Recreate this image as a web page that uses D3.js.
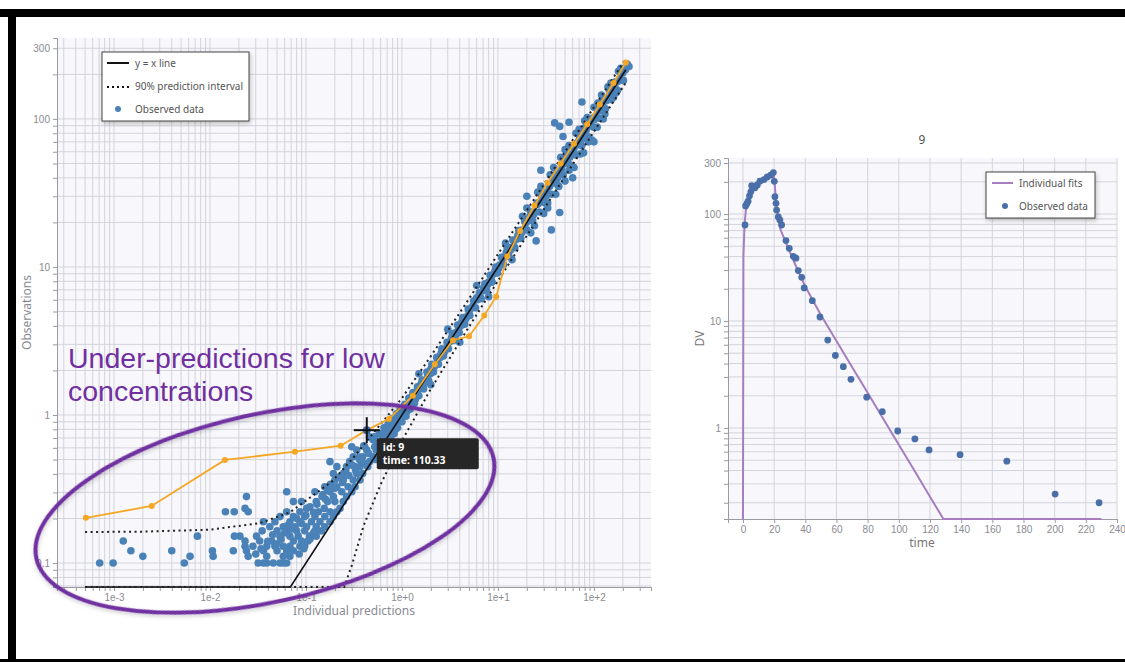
<!DOCTYPE html>
<html>
<head>
<meta charset="utf-8">
<script src="https://cdn.jsdelivr.net/npm/d3@7"></script>
<style>
    body { margin: 0; background: #fff; }
    svg { display: block; font-family: "Noto Sans", Roboto, sans-serif; }
</style>
</head>
<body>
<div id="chart"></div>
<script>
// ---- Left panel: observations vs individual predictions ----
// observed points as [individual prediction, observation]
const observedPairs = [
    // low concentration region
    [7.1e-4, 0.1], [9.8e-4, 0.1], [5.4e-3, 0.1], [0.0318, 0.1], [0.036, 0.1], [0.039, 0.1], [0.0457, 0.1], [0.0537, 0.1], [0.058, 0.1], [0.063, 0.1],
    [2.0e-3, 0.111], [6.2e-3, 0.111], [0.0108, 0.111], [0.025, 0.111], [0.039, 0.111], [0.058, 0.111], [0.068, 0.111],
    [1.5e-3, 0.121], [4.0e-3, 0.121], [0.0106, 0.121], [0.0175, 0.121], [0.024, 0.121], [0.036, 0.121], [0.05, 0.121], [0.063, 0.121], [0.074, 0.121],
    [0.0232, 0.13], [0.028, 0.13], [0.039, 0.13], [0.0475, 0.13], [0.058, 0.13], [0.068, 0.13], [0.0866, 0.13], [0.097, 0.13],
    [1.25e-3, 0.141], [0.0232, 0.141], [0.033, 0.141], [0.044, 0.141], [0.074, 0.141], [0.09, 0.141], [0.105, 0.141],
    [7.4e-3, 0.152], [0.018, 0.152], [0.0205, 0.152], [0.0306, 0.152], [0.0537, 0.152], [0.068, 0.152], [0.083, 0.152], [0.109, 0.152], [0.128, 0.152],
    [0.035, 0.165], [0.05, 0.165], [0.063, 0.165], [0.08, 0.165], [0.097, 0.165], [0.124, 0.165], [0.145, 0.165],
    [0.042, 0.176], [0.058, 0.176], [0.077, 0.176], [0.1016, 0.176], [0.128, 0.176], [0.157, 0.176],
    [0.036, 0.19], [0.0475, 0.19], [0.068, 0.19], [0.0866, 0.19], [0.114, 0.19], [0.14, 0.19], [0.178, 0.19],
    [0.0537, 0.206], [0.074, 0.206], [0.097, 0.206], [0.124, 0.206], [0.157, 0.206], [0.193, 0.206],
    [0.0145, 0.222], [0.0179, 0.222], [0.025, 0.222], [0.063, 0.222], [0.0866, 0.222], [0.135, 0.222], [0.178, 0.222], [0.21, 0.222],
    [0.0232, 0.234], [0.1016, 0.234], [0.155, 0.234], [0.226, 0.234],
    [0.074, 0.26], [0.09, 0.26], [0.128, 0.26], [0.168, 0.26], [0.2, 0.26], [0.245, 0.26],
    [0.024, 0.281], [0.147, 0.281], [0.193, 0.281], [0.265, 0.281],
    [0.063, 0.303], [0.124, 0.303], [0.178, 0.303], [0.236, 0.303], [0.3, 0.303],
    [0.157, 0.328], [0.21, 0.328], [0.275, 0.328], [0.325, 0.328],
    [0.2, 0.364], [0.245, 0.364], [0.311, 0.364], [0.365, 0.364],
    [0.193, 0.403], [0.245, 0.403], [0.338, 0.403], [0.39, 0.403],
    [0.21, 0.448], [0.265, 0.448], [0.365, 0.448], [0.44, 0.448],
    [0.178, 0.484], [0.285, 0.484], [0.38, 0.484], [0.46, 0.484],
    [0.311, 0.523], [0.39, 0.523], [0.5, 0.523],
    [0.338, 0.58], [0.43, 0.58], [0.54, 0.58],
    [0.3, 0.61], [0.41, 0.61], [0.52, 0.61],
    [0.46, 0.713], [0.52, 0.713], [0.63, 0.713],
    [0.03, 0.115], [0.034, 0.125], [0.04, 0.14], [0.045, 0.155], [0.05, 0.135], [0.055, 0.145], [0.06, 0.16], [0.065, 0.18],
    [0.07, 0.17], [0.08, 0.2], [0.09, 0.185], [0.1, 0.21], [0.11, 0.24], [0.12, 0.22], [0.13, 0.25], [0.15, 0.29],
    [0.16, 0.27], [0.17, 0.31], [0.18, 0.34], [0.2, 0.32], [0.22, 0.38], [0.24, 0.35], [0.26, 0.42], [0.28, 0.39],
    [0.3, 0.46], [0.33, 0.42], [0.36, 0.5], [0.4, 0.47], [0.085, 0.115], [0.095, 0.125], [0.11, 0.145], [0.12, 0.16],
    // main band along the identity line
    [0.55, 0.62], [0.58, 0.75], [0.6, 0.55], [0.62, 0.68], [0.65, 0.82], [0.68, 0.6], [0.7, 0.74], [0.72, 0.88], [0.75, 0.68], [0.78, 0.84],
    [0.8, 0.95], [0.83, 0.75], [0.85, 0.9], [0.88, 1.02], [0.9, 0.82], [0.93, 0.97], [0.96, 1.1], [1.0, 0.9], [1.03, 1.05], [1.07, 1.18],
    [1.1, 0.98], [1.14, 1.12], [1.18, 1.3], [1.22, 1.1], [1.26, 1.25], [1.3, 1.42], [1.35, 1.2], [1.4, 1.38], [1.45, 1.55], [1.5, 1.35],
    [1.56, 1.52], [1.62, 1.72], [1.68, 1.5], [1.75, 1.7], [1.82, 1.95], [1.9, 1.7], [1.97, 1.9], [2.05, 2.2], [2.13, 1.95], [2.2, 2.15],
    [2.3, 2.45], [2.4, 2.2], [2.5, 2.45], [2.6, 2.8], [2.7, 2.5], [2.8, 2.75], [2.95, 3.1], [3.05, 2.8], [3.2, 3.15], [3.35, 3.55],
    [3.5, 3.2], [3.65, 3.6], [3.8, 4.05], [3.95, 3.6], [4.1, 4.0], [4.3, 4.55], [4.5, 4.1], [4.7, 4.6], [4.9, 5.2], [5.1, 4.7],
    [5.35, 5.3], [5.6, 5.9], [5.85, 5.3], [6.1, 6.0], [6.4, 6.7], [6.7, 6.1], [7.0, 6.9], [7.3, 7.7], [7.6, 7.0], [8.0, 7.9],
    [8.3, 8.8], [8.7, 7.9], [9.1, 9.0], [9.5, 10.0], [9.9, 9.1], [10.4, 10.3], [10.9, 11.6], [11.4, 10.4], [11.9, 11.8], [12.5, 13.3],
    [13, 11.8], [13.7, 13.5], [14.3, 15.2], [15, 13.5], [15.7, 15.4], [16.5, 17.6], [17.3, 15.6], [18.1, 17.8], [19, 20.3], [20, 17.8],
    [21, 20.5], [22, 23.5], [23, 20.5], [24, 23.5], [25.5, 27], [27, 23.5], [28, 27.5], [29.5, 31.5], [31, 27], [32.5, 32],
    [34, 36.5], [36, 31], [37.5, 37], [39.5, 42], [41.5, 36], [43.5, 43], [46, 49], [48, 42], [50.5, 50], [53, 56],
    [56, 49], [58.5, 58], [61.5, 66], [64.5, 57], [67.5, 67], [71, 76], [74.5, 66], [78, 77.5], [82, 88], [86, 76],
    [90, 90], [95, 101], [99, 88], [104, 104], [109, 116], [114, 101], [120, 120], [126, 134], [132, 117], [138, 138],
    [145, 154], [152, 135], [160, 160], [168, 178], [176, 156], [185, 186], [194, 205], [203, 182], [213, 215], [222, 235], [232, 226],
    [0.32, 0.45], [0.36, 0.52], [0.4, 0.62], [0.45, 0.55], [0.5, 0.68], [0.53, 0.5], [0.57, 0.66], [0.63, 0.74], [0.67, 0.7], [0.73, 0.8],
    [0.77, 0.72], [0.82, 0.88], [0.86, 0.8], [0.92, 0.9], [0.98, 1.0], [1.05, 1.12], [1.12, 1.05], [1.2, 1.2], [1.28, 1.33], [1.38, 1.28],
    [1.48, 1.48], [1.58, 1.62], [1.7, 1.62], [1.85, 1.82], [2.0, 2.05], [2.15, 2.1], [2.35, 2.3], [2.55, 2.6], [2.75, 2.65], [3.0, 3.0],
    [3.3, 3.35], [3.6, 3.45], [3.9, 3.85], [4.2, 4.25], [4.6, 4.45], [5.0, 5.0], [5.5, 5.45], [6.0, 6.2], [6.5, 6.35], [7.1, 7.2],
    [7.8, 7.6], [8.5, 8.6], [9.3, 9.4], [10.2, 9.8], [11.2, 11.3], [12.2, 12.5], [13.4, 12.9], [14.7, 15], [16.1, 16.3], [17.7, 17],
    [19.5, 19.8], [21.5, 22], [23.5, 22.5], [26, 26.5], [28.5, 29.5], [31.5, 30], [34.5, 35], [38, 39], [42, 40], [46, 46],
    [51, 53], [56, 55], [62, 63], [68, 70], [75, 73], [83, 84], [92, 94], [101, 99], [112, 113], [123, 126],
    [136, 133], [150, 152], [165, 168], [182, 180], [200, 204],
    [1.5, 1.9], [2, 1.6], [3, 3.8], [4, 3.1], [6, 7.5], [8, 6.3],
    [12, 14.5], [14, 11.2], [18, 22], [22, 17], [26, 32], [30, 23], [35, 42], [40, 31], [45, 55], [50, 38],
    [55, 66], [62, 47], [70, 85], [78, 59], [85, 102], [95, 72], [110, 128], [125, 100], [140, 165], [160, 140], [180, 210],
    [20, 25], [24, 19], [28, 35], [33, 27], [38, 47], [43, 35], [50, 62], [55, 45], [65, 80], [72, 58],
    [80, 97], [88, 70], [100, 120], [108, 88], [120, 145], [130, 108], [150, 175], [170, 150], [190, 220],
    // scattered points away from the band
    [33, 25], [36, 17.8], [44, 23.3], [47.6, 76], [90.6, 72], [44, 89], [39, 94], [28, 45], [60, 40], [75, 130], [100, 70], [55, 95], [25, 15], [20, 30]
];

// binned trend (orange), [prediction, observation]
const trendPairs = [
    [5.1e-4, 0.202], [2.47e-3, 0.243], [0.0143, 0.497], [0.0768, 0.565], [0.23, 0.62], [0.43, 0.79], [0.73, 0.94],
    [1.3, 1.35], [2.2, 2.2], [3.4, 3.2], [5.0, 3.4], [7.2, 4.7], [9.6, 6.3], [12.5, 11.8], [17, 17.5], [24, 26],
    [33, 37], [45, 50], [62, 68], [85, 92], [115, 125], [160, 175], [215, 240]
];

// 90% prediction interval, [prediction, bound]
const piUpperPairs = [
    [5e-4, 0.162], [2e-3, 0.163], [0.01, 0.168], [0.033, 0.186], [0.068, 0.22], [0.14, 0.31], [0.19, 0.36],
    [0.3, 0.5], [0.5, 0.75], [1, 1.3], [2, 2.5], [5, 6.1], [10, 12.2], [30, 36], [100, 120], [215, 255]
];
const piLowerPairs = [
    [5e-4, 5e-4], [0.2, 5e-4], [0.25, 0.05], [0.3, 0.096], [0.4, 0.18], [0.6, 0.34], [1, 0.67],
    [2, 1.5], [5, 3.95], [10, 8.05], [30, 24.5], [100, 82], [215, 176]
];

// y = x reference line
const identityValues = [5e-4, 0.0689, 215];

const xTickValues = [1e-3, 1e-2, 1e-1, 1, 10, 100];
const xTickLabels = ["1e-3", "1e-2", "1e-1", "1e+0", "1e+1", "1e+2"];
const yTickValues = [0.1, 1, 10, 100, 300];
const yTickLabels = ["0.1", "1", "10", "100", "300"];

// highlighted point under the cursor
const hovered = { id: 9, time: 110.33, pred: 0.43, obs: 0.79 };

// ---- Right panel: subject 9 ----
const subjectTime = [1.3, 1.7, 2.5, 3.3, 4.2, 5.1, 5.6, 7.7, 9.2, 10.9, 13.5, 15.6, 17.8, 19.5, 20.1, 20.5, 21.2, 21.6, 22.7, 23.7, 24.8,
    27.6, 29.7, 32.3, 34, 35.5, 37.7, 39.3, 44.5, 49.4, 54.4, 59.3, 64.4, 69.3, 79.4, 89.4, 99.3, 110.33, 119.4, 139.3, 169.3, 200.3, 228.5];
const subjectDV = [79, 119, 125, 132, 148, 162, 184, 176, 187, 203, 210, 222, 231, 244, 202, 145, 126, 109, 94, 88, 79,
    56.5, 47.8, 40.2, 38.7, 29.6, 25.6, 20.4, 15.5, 10.9, 6.64, 4.76, 3.74, 2.85, 1.94, 1.42, 0.937, 0.79, 0.623, 0.563, 0.49, 0.241, 0.2];

const fitTime = [0, 0.3, 1, 2, 3, 5, 7, 10, 13, 16, 19.5, 20.3, 21, 22, 23, 24, 28, 32, 36, 40, 50, 60, 70, 80, 90, 100, 110, 120, 128.6, 130, 230];
const fitDV = [1e-3, 40, 79, 115, 133, 162, 180, 200, 215, 228, 246, 200, 140, 105, 88, 72, 52, 38, 28, 21, 11.4, 6.5, 3.72, 2.13, 1.22, 0.697, 0.40, 0.228, 0.141, 0.1, 0.1];

const timeTicks = d3.range(0, 241, 20);
const dvTickValues = [1, 10, 100, 300];

function init() {
    const w = 1125, h = 662;
    const gridColor = "#d3d3dc";
    const plotBg = "#f8f8fc";
    const blue = "#4a82b8";
    const orange = "#f5a623";
    const purple = "#7030a0";

    const svg = d3.select("#chart").append("svg")
        .attr("width", w)
        .attr("height", h);

    const defs = svg.append("defs");
    const shadow = defs.append("filter").attr("id", "shadow")
        .attr("x", "-20%").attr("y", "-20%").attr("width", "140%").attr("height", "150%");
    shadow.append("feDropShadow").attr("dx", 1).attr("dy", 2).attr("stdDeviation", 2)
        .attr("flood-color", "#000").attr("flood-opacity", 0.25);
    const soft = defs.append("filter").attr("id", "soft")
        .attr("x", "-10%").attr("y", "-20%").attr("width", "120%").attr("height", "140%");
    soft.append("feDropShadow").attr("dx", 0).attr("dy", 2).attr("stdDeviation", 2)
        .attr("flood-color", "#000").attr("flood-opacity", 0.2);

    // screenshot frame
    svg.append("rect").attr("x", 0).attr("y", 9).attr("width", w).attr("height", 8).attr("fill", "#000");
    svg.append("rect").attr("x", 8).attr("y", 9).attr("width", 8).attr("height", h - 9).attr("fill", "#000");
    svg.append("rect").attr("x", 0).attr("y", h - 3).attr("width", w).attr("height", 3).attr("fill", "#000");

    // ===== left panel =====
    const x = d3.scaleLog().domain([2.55e-4, 393]).range([57, 651]);
    const y = d3.scaleLog().domain([0.0689, 352]).range([587, 38]).clamp(true);

    const left = svg.append("g");
    left.append("rect")
        .attr("x", x.range()[0]).attr("y", y.range()[1])
        .attr("width", x.range()[1] - x.range()[0])
        .attr("height", y.range()[0] - y.range()[1])
        .attr("fill", plotBg);

    // grid
    left.append("g").selectAll("line").data(x.ticks()).join("line")
        .attr("x1", d => x(d)).attr("x2", d => x(d))
        .attr("y1", y.range()[0]).attr("y2", y.range()[1])
        .attr("stroke", gridColor);
    left.append("g").selectAll("line").data(y.ticks()).join("line")
        .attr("x1", x.range()[0]).attr("x2", x.range()[1])
        .attr("y1", d => y(d)).attr("y2", d => y(d))
        .attr("stroke", gridColor);

    // axes
    const xAxis = left.append("g")
        .attr("transform", `translate(0,${y.range()[0]})`)
        .call(d3.axisBottom(x).tickValues(x.ticks()).tickSize(4)
            .tickFormat(d => { const i = xTickValues.findIndex(v => Math.abs(v - d) / v < 1e-6); return i >= 0 ? xTickLabels[i] : ""; }));
    const yAxis = left.append("g")
        .attr("transform", `translate(${x.range()[0]},0)`)
        .call(d3.axisLeft(y).tickValues(y.ticks()).tickSize(4)
            .tickFormat(d => { const i = yTickValues.findIndex(v => Math.abs(v - d) / v < 1e-6); return i >= 0 ? yTickLabels[i] : ""; }));
    [xAxis, yAxis].forEach(a => {
        a.selectAll("path, line").attr("stroke", "#9a9aa2");
        a.selectAll("text").attr("fill", "#8a8a92").attr("font-size", 10);
    });

    left.append("text")
        .attr("x", (x.range()[0] + x.range()[1]) / 2).attr("y", 615)
        .attr("text-anchor", "middle").attr("font-size", 12).attr("fill", "#8a8a92")
        .text("Individual predictions");
    left.append("text")
        .attr("transform", `translate(31,${(y.range()[0] + y.range()[1]) / 2}) rotate(-90)`)
        .attr("text-anchor", "middle").attr("font-size", 12).attr("fill", "#8a8a92")
        .text("Observations");

    const line = d3.line().x(d => x(d[0])).y(d => y(d[1]));

    // points
    left.append("g").selectAll("circle").data(observedPairs).join("circle")
        .attr("cx", d => x(d[0])).attr("cy", d => y(d[1]))
        .attr("r", 3.8).attr("fill", blue);

    // identity line
    left.append("path")
        .datum(identityValues.map(v => [v, v]))
        .attr("d", line).attr("fill", "none")
        .attr("stroke", "#111").attr("stroke-width", 1.6);

    // prediction interval
    [piUpperPairs, piLowerPairs].forEach(pi => {
        left.append("path").datum(pi).attr("d", line)
            .attr("fill", "none").attr("stroke", "#222")
            .attr("stroke-width", 2).attr("stroke-dasharray", "2,3.5");
    });

    // trend
    left.append("path").datum(trendPairs).attr("d", line)
        .attr("fill", "none").attr("stroke", orange).attr("stroke-width", 1.8);
    left.append("g").selectAll("circle").data(trendPairs).join("circle")
        .attr("cx", d => x(d[0])).attr("cy", d => y(d[1]))
        .attr("r", 3).attr("fill", orange);

    // legend
    const lg = left.append("g").attr("transform", "translate(102,52)");
    lg.append("rect").attr("width", 147).attr("height", 69)
        .attr("fill", "#fff").attr("stroke", "#444").attr("filter", "url(#shadow)");
    lg.append("line").attr("x1", 5).attr("x2", 27).attr("y1", 11).attr("y2", 11)
        .attr("stroke", "#111").attr("stroke-width", 2);
    lg.append("line").attr("x1", 5).attr("x2", 27).attr("y1", 35).attr("y2", 35)
        .attr("stroke", "#111").attr("stroke-width", 2).attr("stroke-dasharray", "2,3");
    lg.append("circle").attr("cx", 16).attr("cy", 57).attr("r", 3).attr("fill", blue);
    ["y = x line", "90% prediction interval", "Observed data"].forEach((t, i) => {
        lg.append("text").attr("x", 33).attr("y", 14.5 + i * 23)
            .attr("font-size", 10).attr("fill", "#555").text(t);
    });

    // annotation
    const ann = left.append("g");
    ann.append("ellipse")
        .attr("transform", `translate(${x(0.0374)},${y(0.235)}) rotate(-12.4)`)
        .attr("rx", 234).attr("ry", 94)
        .attr("fill", "none").attr("stroke", purple).attr("stroke-width", 4)
        .attr("filter", "url(#soft)");
    ann.append("text")
        .attr("x", 68).attr("y", 368)
        .attr("font-family", "'Liberation Sans', Arial, sans-serif")
        .attr("font-size", 28.5).attr("fill", purple)
        .selectAll("tspan").data(["Under-predictions for low", "concentrations"]).join("tspan")
        .attr("x", 68).attr("dy", (d, i) => i === 0 ? 0 : 33).text(d => d);

    // hovered point, crosshair and tooltip
    const hx = x(hovered.pred), hy = y(hovered.obs);
    left.append("circle").attr("cx", hx).attr("cy", hy).attr("r", 4).attr("fill", "#3a66b0");
    left.append("line").attr("x1", hx).attr("x2", hx).attr("y1", hy - 13).attr("y2", hy + 13)
        .attr("stroke", "#111").attr("stroke-width", 2);
    left.append("line").attr("x1", hx - 13).attr("x2", hx + 13).attr("y1", hy).attr("y2", hy)
        .attr("stroke", "#111").attr("stroke-width", 2);
    const tip = left.append("g").attr("transform", `translate(${hx + 10},${hy + 8})`);
    tip.append("rect").attr("width", 102).attr("height", 31).attr("rx", 2).attr("fill", "#262626");
    tip.append("text").attr("x", 6).attr("y", 13).attr("font-size", 10.5).attr("font-weight", "bold")
        .attr("fill", "#fff").text(`id: ${hovered.id}`);
    tip.append("text").attr("x", 6).attr("y", 26).attr("font-size", 10.5).attr("font-weight", "bold")
        .attr("fill", "#fff").text(`time: ${hovered.time}`);

    // ===== right panel =====
    const tx = d3.scaleLinear().domain([-9.6, 240]).range([728, 1117]);
    const ty = d3.scaleLog().domain([0.141, 334]).range([519, 158]).clamp(true);

    const right = svg.append("g");
    right.append("rect")
        .attr("x", tx.range()[0]).attr("y", ty.range()[1])
        .attr("width", tx.range()[1] - tx.range()[0])
        .attr("height", ty.range()[0] - ty.range()[1])
        .attr("fill", plotBg);
    right.append("g").selectAll("line").data(timeTicks).join("line")
        .attr("x1", d => tx(d)).attr("x2", d => tx(d))
        .attr("y1", ty.range()[0]).attr("y2", ty.range()[1])
        .attr("stroke", gridColor);
    right.append("g").selectAll("line").data(ty.ticks()).join("line")
        .attr("x1", tx.range()[0]).attr("x2", tx.range()[1])
        .attr("y1", d => ty(d)).attr("y2", d => ty(d))
        .attr("stroke", gridColor);

    const txAxis = right.append("g")
        .attr("transform", `translate(0,${ty.range()[0]})`)
        .call(d3.axisBottom(tx).tickValues(timeTicks).tickSize(4));
    const tyAxis = right.append("g")
        .attr("transform", `translate(${tx.range()[0]},0)`)
        .call(d3.axisLeft(ty).tickValues(ty.ticks()).tickSize(4)
            .tickFormat(d => dvTickValues.some(v => Math.abs(v - d) / v < 1e-6) ? d3.format("~g")(d) : ""));
    [txAxis, tyAxis].forEach(a => {
        a.selectAll("path, line").attr("stroke", "#9a9aa2");
        a.selectAll("text").attr("fill", "#8a8a92").attr("font-size", 10);
    });

    right.append("text")
        .attr("x", 922).attr("y", 547).attr("text-anchor", "middle")
        .attr("font-size", 12).attr("fill", "#777").text("time");
    right.append("text")
        .attr("transform", `translate(704,${(ty.range()[0] + ty.range()[1]) / 2}) rotate(-90)`)
        .attr("text-anchor", "middle").attr("font-size", 12).attr("fill", "#777").text("DV");
    right.append("text")
        .attr("x", 922).attr("y", 144).attr("text-anchor", "middle")
        .attr("font-size", 12).attr("fill", "#555").text(hovered.id);

    right.append("path")
        .datum(fitTime.map((t, i) => [t, fitDV[i]]))
        .attr("d", d3.line().x(d => tx(d[0])).y(d => ty(d[1])))
        .attr("fill", "none").attr("stroke", "#a67dbe").attr("stroke-width", 2);
    right.append("g").selectAll("circle").data(subjectTime.map((t, i) => [t, subjectDV[i]])).join("circle")
        .attr("cx", d => tx(d[0])).attr("cy", d => ty(d[1]))
        .attr("r", 3.4).attr("fill", "#4a6fa8");

    const rg = right.append("g").attr("transform", "translate(986,172)");
    rg.append("rect").attr("width", 109).attr("height", 46)
        .attr("fill", "#fff").attr("stroke", "#444").attr("filter", "url(#shadow)");
    rg.append("line").attr("x1", 6).attr("x2", 27).attr("y1", 11).attr("y2", 11)
        .attr("stroke", "#a67dbe").attr("stroke-width", 2);
    rg.append("circle").attr("cx", 19).attr("cy", 34).attr("r", 3).attr("fill", "#4a6fa8");
    ["Individual fits", "Observed data"].forEach((t, i) => {
        rg.append("text").attr("x", 33).attr("y", 14.5 + i * 23)
            .attr("font-size", 10).attr("fill", "#555").text(t);
    });
}

window.onload = init;
</script>
</body>
</html>
